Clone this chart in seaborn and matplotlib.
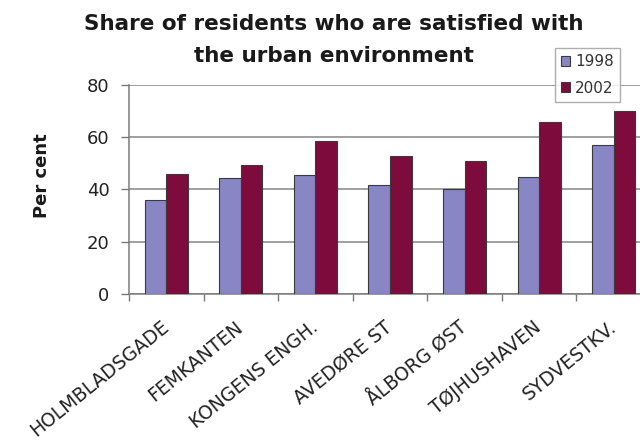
import matplotlib
matplotlib.use("Agg")
import matplotlib.pyplot as plt
import seaborn as sns
import pandas as pd
import numpy as np

areas = ["HOLMBLADSGADE", "FEMKANTEN", "KONGENS ENGH.", "AVEDØRE ST",
         "ÅLBORG ØST", "TØJHUSHAVEN", "SYDVESTKV."]
share_1998 = [36.0, 44.4, 45.4, 41.9, 40.2, 44.8, 57.2]
share_2002 = [45.9, 49.4, 58.4, 52.7, 50.8, 65.8, 69.9]
years = ["1998", "2002"]
yticks = [0, 20, 40, 60, 80]
title_lines = ["Share of residents who are satisfied with", "the urban environment"]

df = pd.DataFrame({"area": areas, "1998": share_1998, "2002": share_2002})
long = df.melt(id_vars="area", value_vars=years, var_name="year", value_name="pct")

sns.set_style("white")
plt.rcParams["font.family"] = ["DejaVu Sans"]

fig = plt.figure(figsize=(6.4, 4.41), dpi=100)
ax = fig.add_axes([129/640, 1-294/441, 522/640, (294-85)/441])

palette = {"1998": "#8886c4", "2002": "#7d0c3c"}
sns.barplot(data=long, x="area", y="pct", hue="year", order=areas,
            hue_order=years, palette=palette, width=0.58, saturation=1,
            edgecolor="#3a3a3a", linewidth=0.8, ax=ax, zorder=3)

ax.set_xlim(-0.5, len(areas) - 0.5)
ax.set_ylim(0, 80)
ax.set_yticks(yticks)
ax.set_yticklabels([str(v) for v in yticks], fontsize=13, color="#222222")
ax.yaxis.grid(True, color="#858585", linewidth=1.1, zorder=0)
ax.set_axisbelow(True)
for s in ["top", "right"]:
    ax.spines[s].set_visible(False)
for s in ["left", "bottom"]:
    ax.spines[s].set_color("#7a7a7a")
    ax.spines[s].set_linewidth(1.1)

ax.tick_params(axis="y", which="major", direction="out", length=6, width=1,
               color="#7a7a7a", pad=8, left=True)
ax.set_xticks(range(len(areas)))
ax.set_xticklabels(areas, rotation=39, ha="right", va="center",
                   rotation_mode="anchor", fontsize=13.5, color="#222222")
ax.tick_params(axis="x", which="major", length=0, pad=22, bottom=True)
ax.set_xticks(np.arange(-0.5, len(areas), 1.0), minor=True)
ax.tick_params(axis="x", which="minor", direction="out", length=5, width=1,
               color="#7a7a7a", bottom=True)
ax.set_xlabel("")
ax.set_ylabel("")

handles, labels = ax.get_legend_handles_labels()
ax.get_legend().remove()
leg = fig.legend(handles, labels, loc="upper left",
                 bbox_to_anchor=(555/640, 1-48/441), fontsize=11,
                 frameon=True, fancybox=False, shadow=False,
                 handlelength=0.6, handleheight=0.6, handletextpad=0.3,
                 labelspacing=0.75, borderpad=0.4, borderaxespad=0)
leg.get_frame().set_edgecolor("#9a9a9a")
leg.get_frame().set_linewidth(1.0)
for t in leg.get_texts():
    t.set_color("#333333")

for line, base in zip(title_lines, [30, 62]):
    fig.text(334/640, 1-base/441, line, ha="center", va="baseline",
             fontsize=15.5, fontweight="bold", color="#1a1a1a")
fig.text(42/640, 1-176/441, "Per cent", rotation=90, ha="center",
         va="center", fontsize=13, fontweight="bold", color="#1a1a1a")

fig.savefig("out.png", dpi=100)
